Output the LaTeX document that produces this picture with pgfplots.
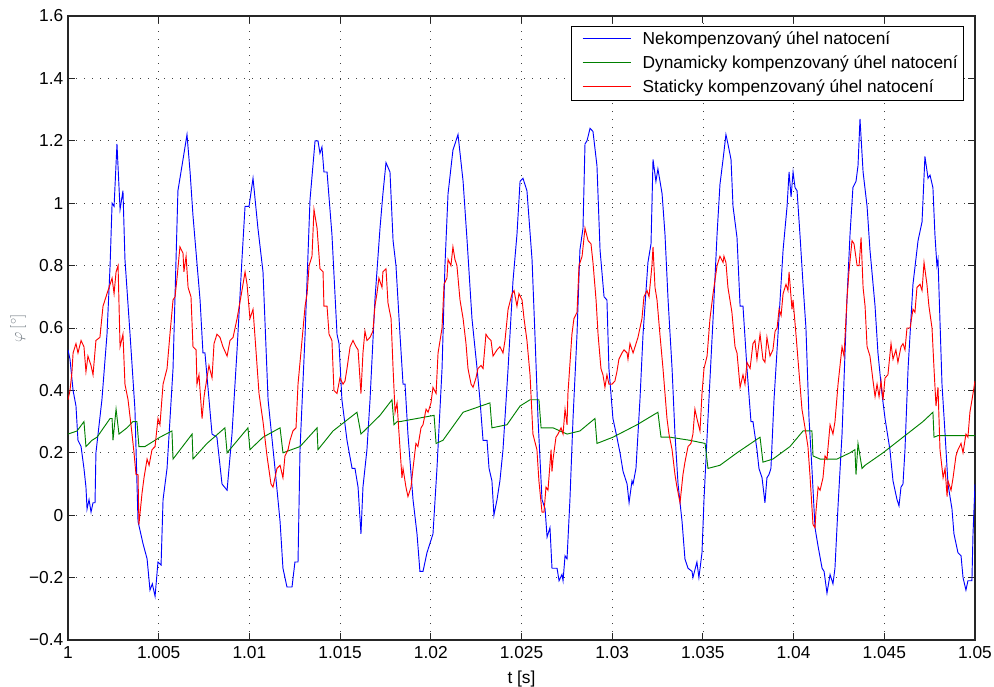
\documentclass[border=0pt]{standalone}
\usepackage{pgfplots}
\pgfplotsset{compat=1.18}
\usepackage{fontspec}
\setmainfont{Liberation Sans}
\usetikzlibrary{calc}

\definecolor{mblue}{RGB}{0,0,255}
\definecolor{mgreen}{RGB}{0,128,0}
\definecolor{mred}{RGB}{255,0,0}
\definecolor{labgray}{RGB}{120,128,136}

\newcommand{\legline}[1]{\textcolor{#1}{\rule[0.32em]{36pt}{0.7pt}}\hspace{9pt}}

\begin{document}
\begin{tikzpicture}
\begin{axis}[
  scale only axis,
  width=680.25pt, height=468pt,
  xmin=0, xmax=50, ymin=-0.4, ymax=1.6,
  xtick={0,5,...,50},
  xticklabels={1,1.005,1.01,1.015,1.02,1.025,1.03,1.035,1.04,1.045,1.05},
  ytick={-0.4,-0.2,...,1.6},
  yticklabels={−0.4,−0.2,0,0.2,0.4,0.6,0.8,1,1.2,1.4,1.6},
  tick label style={font=\fontsize{13}{15}\selectfont},
  xticklabel style={yshift=-1.5pt},
  label style={font=\fontsize{13}{15}\selectfont},
  xlabel={t [s]},
  ylabel={$\varphi\,[^\circ]$},
  xlabel style={at={(axis description cs:0.5,-0.0625)}, anchor=center},
  ylabel style={at={(axis description cs:-0.055,0.5)}, anchor=center, text=labgray},
  tick align=inside,
  major tick length=5pt,
  tick style={black!85, line width=0.7pt},
  axis line style={black!85, line width=0.9pt},
  grid=major,
  grid style={black!75, line width=0.6pt, dash pattern=on 0.8pt off 5.2pt},
]
\coordinate (ll) at (rel axis cs:0,0);
\coordinate (ur) at (rel axis cs:1,1);

\addplot[color=mblue, line width=0.7pt] table {
0.00 0.53
0.11 0.50
0.28 0.40
0.44 0.35
0.55 0.24
0.72 0.22
0.88 0.15
0.99 0.09
1.05 0.02
1.16 0.05
1.27 0.01
1.38 0.04
1.49 0.04
1.54 0.20
1.87 0.37
2.15 0.58
2.32 0.80
2.43 1.00
2.54 0.99
2.70 1.19
2.87 0.98
3.03 1.04
3.14 0.82
3.42 0.58
3.69 0.34
3.86 -0.02
4.13 -0.09
4.36 -0.14
4.52 -0.24
4.65 -0.22
4.80 -0.26
4.96 -0.15
5.13 -0.16
5.24 0.05
5.46 0.15
5.79 0.47
6.06 1.04
6.34 1.14
6.56 1.22
6.73 1.10
6.89 0.96
7.28 0.69
7.44 0.52
7.55 0.52
7.94 0.26
8.21 0.25
8.49 0.10
8.77 0.08
9.04 0.26
9.32 0.53
9.59 0.82
9.76 0.99
9.98 0.99
10.20 1.08
10.47 0.92
10.75 0.78
11.03 0.37
11.41 0.15
11.69 -0.02
11.85 -0.17
12.07 -0.23
12.35 -0.23
12.51 -0.15
12.68 -0.15
12.79 0.21
13.07 0.58
13.34 1.01
13.62 1.20
13.78 1.20
13.89 1.16
14.00 1.18
14.11 1.10
14.28 1.10
14.55 0.90
14.83 0.58
14.94 0.55
15.10 0.37
15.38 0.24
15.66 0.15
15.82 0.15
15.99 0.09
16.15 -0.06
16.26 0.09
16.48 0.21
16.65 0.37
16.92 0.69
17.20 0.92
17.36 1.03
17.53 1.13
17.75 1.10
17.92 0.88
18.08 0.80
18.30 0.58
18.47 0.42
18.58 0.42
18.74 0.26
19.02 0.05
19.24 -0.06
19.40 -0.18
19.57 -0.18
19.79 -0.12
20.12 -0.06
20.34 0.15
20.62 0.47
20.78 0.80
20.95 1.03
21.22 1.17
21.50 1.22
21.78 1.07
22.00 0.88
22.27 0.63
22.55 0.47
22.71 0.37
22.88 0.24
23.10 0.24
23.21 0.15
23.37 0.11
23.48 0.00
23.65 0.05
23.81 0.11
23.98 0.21
24.26 0.47
24.53 0.75
24.75 0.90
24.92 1.07
25.08 1.08
25.30 1.04
25.58 0.82
25.74 0.58
25.91 0.31
26.13 0.05
26.30 0.02
26.41 -0.07
26.57 -0.04
26.68 -0.17
26.96 -0.17
27.07 -0.21
27.23 -0.19
27.29 -0.21
27.40 -0.13
27.51 -0.14
27.67 0.05
27.84 0.31
28.06 0.58
28.22 0.85
28.39 0.92
28.50 1.19
28.61 1.20
28.78 1.24
28.94 1.23
29.16 1.12
29.33 0.85
29.55 0.70
29.71 0.69
29.82 0.47
30.04 0.31
30.26 0.25
30.43 0.20
30.60 0.14
30.82 0.10
30.93 0.04
31.09 0.11
31.15 0.10
31.31 0.15
31.53 0.37
31.70 0.58
31.97 0.81
32.14 0.87
32.25 1.14
32.41 1.07
32.52 1.11
32.75 1.03
32.91 0.90
33.08 0.69
33.30 0.47
33.46 0.26
33.63 0.10
33.85 -0.02
34.01 -0.14
34.18 -0.17
34.40 -0.18
34.45 -0.20
34.67 -0.15
34.78 -0.20
34.95 -0.12
35.06 0.05
35.28 0.31
35.56 0.63
35.78 0.90
35.94 1.06
36.11 1.14
36.27 1.22
36.38 1.19
36.55 1.14
36.66 0.99
36.88 0.89
37.05 0.67
37.21 0.67
37.43 0.47
37.65 0.30
37.76 0.30
37.98 0.21
38.09 0.15
38.26 0.12
38.42 0.04
38.53 0.12
38.64 0.13
38.75 0.15
38.92 0.37
39.14 0.58
39.42 0.85
39.64 0.99
39.75 1.10
39.86 1.02
39.97 1.10
40.08 1.05
40.19 1.04
40.35 0.90
40.52 0.74
40.68 0.60
40.85 0.31
41.01 0.15
41.18 -0.04
41.35 -0.10
41.57 -0.17
41.68 -0.18
41.84 -0.25
42.01 -0.19
42.17 -0.22
42.28 -0.17
42.45 0.03
42.67 0.26
42.94 0.69
43.11 0.90
43.27 1.05
43.44 1.07
43.55 1.12
43.66 1.27
43.83 1.10
44.05 0.99
44.21 0.85
44.49 0.67
44.65 0.52
44.87 0.39
45.04 0.31
45.31 0.21
45.48 0.11
45.70 0.05
45.81 0.03
45.92 0.09
46.03 0.10
46.14 0.21
46.31 0.47
46.58 0.74
46.86 0.88
47.08 0.94
47.24 1.15
47.41 1.08
47.52 1.09
47.68 1.05
47.79 0.90
47.90 0.80
47.96 0.82
48.18 0.42
48.35 0.26
48.51 0.10
48.73 0.02
48.84 -0.06
49.06 -0.12
49.23 -0.13
49.34 -0.20
49.50 -0.24
49.61 -0.21
49.83 -0.21
49.89 -0.06
50.00 0.10
};

\addplot[color=mgreen, line width=0.7pt] table {
0.00 0.26
0.50 0.27
0.88 0.30
0.99 0.22
1.32 0.24
1.60 0.25
2.32 0.31
2.43 0.31
2.48 0.24
2.65 0.34
2.81 0.26
3.25 0.28
3.58 0.30
3.80 0.30
3.91 0.22
4.24 0.22
5.07 0.25
5.73 0.27
5.79 0.18
6.84 0.26
6.89 0.18
7.66 0.23
8.65 0.28
8.77 0.20
9.92 0.28
10.03 0.21
10.75 0.25
11.69 0.28
11.85 0.20
12.79 0.22
13.73 0.28
13.78 0.21
14.61 0.27
15.93 0.33
16.15 0.26
17.20 0.32
17.86 0.37
17.97 0.29
18.14 0.30
18.30 0.30
19.24 0.31
20.18 0.32
20.29 0.23
20.67 0.24
21.78 0.33
23.26 0.36
23.37 0.28
24.20 0.29
24.92 0.35
25.47 0.37
25.96 0.37
26.08 0.28
26.74 0.28
27.51 0.26
28.22 0.27
29.05 0.31
29.16 0.23
30.04 0.25
31.37 0.29
32.52 0.33
32.69 0.25
33.19 0.25
34.29 0.24
35.12 0.23
35.28 0.15
35.94 0.16
36.88 0.20
38.15 0.25
38.31 0.17
38.86 0.18
39.80 0.22
40.52 0.27
41.01 0.27
41.07 0.19
41.46 0.18
42.39 0.18
43.11 0.20
43.38 0.21
43.44 0.13
43.55 0.23
43.77 0.15
43.94 0.16
44.93 0.20
46.25 0.26
47.13 0.30
47.68 0.33
47.74 0.25
47.96 0.255
50.00 0.255
};

\addplot[color=mred, line width=0.7pt] table {
0.00 0.37
0.11 0.40
0.22 0.46
0.28 0.52
0.44 0.55
0.55 0.52
0.72 0.56
0.88 0.54
0.99 0.46
1.10 0.51
1.27 0.48
1.38 0.45
1.54 0.56
1.76 0.57
1.93 0.67
2.15 0.71
2.32 0.74
2.43 0.76
2.54 0.71
2.65 0.78
2.76 0.80
2.87 0.54
3.03 0.58
3.14 0.42
3.31 0.37
3.53 0.26
3.64 0.20
3.75 0.13
3.86 0.13
3.91 -0.03
4.08 0.07
4.19 0.12
4.36 0.18
4.47 0.16
4.63 0.21
4.80 0.22
4.96 0.31
5.07 0.29
5.24 0.42
5.46 0.47
5.62 0.58
5.79 0.69
5.90 0.70
6.01 0.76
6.17 0.86
6.34 0.84
6.39 0.78
6.51 0.83
6.62 0.73
6.78 0.70
6.89 0.54
7.06 0.53
7.11 0.42
7.22 0.45
7.39 0.31
7.50 0.38
7.66 0.44
7.77 0.48
7.94 0.44
8.05 0.55
8.21 0.58
8.38 0.57
8.54 0.54
8.77 0.51
8.93 0.56
9.10 0.57
9.32 0.63
9.59 0.72
9.76 0.78
9.87 0.74
10.03 0.63
10.20 0.66
10.36 0.53
10.53 0.39
10.75 0.30
10.97 0.19
11.19 0.10
11.30 0.09
11.52 0.15
11.69 0.16
11.85 0.12
11.96 0.19
12.13 0.21
12.24 0.24
12.40 0.27
12.57 0.28
12.68 0.42
12.90 0.56
13.07 0.67
13.18 0.71
13.29 0.80
13.45 0.83
13.56 0.98
13.73 0.92
13.89 0.79
14.06 0.78
14.11 0.67
14.28 0.67
14.39 0.58
14.55 0.56
14.66 0.40
14.83 0.39
14.99 0.44
15.16 0.42
15.27 0.43
15.38 0.47
15.55 0.54
15.71 0.56
15.88 0.54
15.99 0.53
16.15 0.39
16.26 0.52
16.37 0.59
16.48 0.56
16.65 0.57
16.81 0.59
16.92 0.67
17.03 0.71
17.14 0.76
17.31 0.73
17.36 0.78
17.53 0.79
17.64 0.68
17.81 0.63
17.92 0.47
18.03 0.33
18.14 0.36
18.25 0.26
18.41 0.12
18.47 0.15
18.63 0.09
18.74 0.06
18.91 0.09
19.02 0.15
19.18 0.23
19.29 0.22
19.46 0.28
19.57 0.29
19.74 0.34
19.85 0.33
20.01 0.36
20.12 0.41
20.29 0.39
20.40 0.52
20.62 0.60
20.73 0.74
20.89 0.76
20.95 0.82
21.11 0.80
21.22 0.86
21.33 0.82
21.44 0.80
21.61 0.69
21.78 0.63
21.94 0.55
22.05 0.47
22.22 0.42
22.33 0.41
22.49 0.44
22.60 0.47
22.77 0.48
22.88 0.47
23.04 0.58
23.15 0.57
23.32 0.56
23.43 0.51
23.54 0.52
23.65 0.53
23.81 0.54
23.98 0.52
24.09 0.56
24.26 0.66
24.48 0.71
24.59 0.72
24.75 0.67
24.86 0.71
25.03 0.69
25.14 0.63
25.30 0.56
25.47 0.45
25.63 0.26
25.85 0.21
25.96 0.11
26.13 0.01
26.24 0.01
26.35 0.09
26.46 0.08
26.63 0.21
26.68 0.14
26.74 0.18
26.90 0.25
27.01 0.26
27.18 0.28
27.29 0.26
27.40 0.34
27.51 0.29
27.56 0.39
27.78 0.58
27.89 0.63
28.06 0.65
28.17 0.80
28.34 0.83
28.50 0.92
28.67 0.88
28.83 0.87
28.94 0.81
29.11 0.69
29.22 0.58
29.38 0.47
29.49 0.45
29.60 0.41
29.71 0.45
29.82 0.42
29.99 0.42
30.15 0.43
30.26 0.46
30.37 0.50
30.54 0.52
30.65 0.53
30.82 0.52
30.87 0.50
30.98 0.55
31.15 0.52
31.26 0.54
31.42 0.57
31.64 0.63
31.75 0.70
31.92 0.72
32.03 0.70
32.19 0.80
32.25 0.86
32.36 0.73
32.47 0.69
32.63 0.58
32.80 0.47
33.02 0.31
33.13 0.26
33.30 0.21
33.46 0.13
33.57 0.09
33.74 0.04
33.90 0.13
34.01 0.17
34.18 0.22
34.34 0.23
34.45 0.26
34.56 0.34
34.67 0.31
34.84 0.27
34.95 0.39
35.06 0.47
35.23 0.51
35.39 0.63
35.56 0.71
35.78 0.80
35.94 0.83
36.11 0.81
36.16 0.83
36.27 0.81
36.38 0.73
36.60 0.65
36.77 0.54
36.88 0.52
37.05 0.41
37.21 0.45
37.32 0.42
37.43 0.49
37.60 0.47
37.76 0.55
37.87 0.56
37.98 0.50
38.15 0.58
38.31 0.50
38.42 0.49
38.53 0.57
38.70 0.51
38.86 0.53
38.98 0.59
39.09 0.60
39.20 0.66
39.31 0.64
39.42 0.71
39.58 0.74
39.69 0.72
39.75 0.78
39.91 0.66
39.97 0.69
40.13 0.58
40.24 0.50
40.46 0.34
40.63 0.28
40.79 0.22
40.90 0.13
41.07 -0.03
41.18 -0.04
41.23 0.01
41.35 0.09
41.46 0.08
41.62 0.12
41.73 0.19
41.84 0.18
42.01 0.29
42.17 0.26
42.28 0.30
42.45 0.42
42.67 0.54
42.78 0.51
42.94 0.69
43.05 0.78
43.22 0.88
43.33 0.87
43.50 0.80
43.61 0.80
43.72 0.89
43.83 0.73
43.94 0.67
44.05 0.54
44.21 0.51
44.38 0.43
44.49 0.38
44.60 0.42
44.71 0.38
44.82 0.43
44.93 0.37
45.04 0.44
45.20 0.45
45.37 0.55
45.48 0.50
45.64 0.53
45.75 0.49
45.92 0.54
46.03 0.55
46.14 0.53
46.25 0.60
46.42 0.60
46.58 0.66
46.69 0.65
46.80 0.73
46.97 0.74
47.08 0.72
47.19 0.81
47.35 0.74
47.46 0.67
47.63 0.60
47.74 0.47
47.85 0.35
47.96 0.41
48.07 0.21
48.24 0.12
48.35 0.15
48.46 0.06
48.51 0.11
48.68 0.08
48.79 0.12
48.95 0.19
49.06 0.21
49.23 0.23
49.34 0.20
49.50 0.26
49.61 0.25
49.72 0.33
49.89 0.39
50.00 0.43
};

\node[draw=black, line width=0.5pt, fill=white, inner xsep=0pt, inner ysep=0.8pt,
      anchor=north east, font=\fontsize{13}{18}\selectfont]
  at (rel axis cs:0.9879,0.984) {%
  \begin{tabular}{@{\hspace{8.25pt}}l@{\hspace{4.5pt}}}
  \legline{mblue}Nekompenzovaný úhel natocení\\
  \legline{mgreen}Dynamicky kompenzovaný úhel natocení\\
  \legline{mred}Staticky kompenzovaný úhel natocení
  \end{tabular}};
\end{axis}
\pgfresetboundingbox
\path[use as bounding box] ($(ll)+(-51pt,-34.5pt)$) rectangle ($(ur)+(14.25pt,12pt)$);
\end{tikzpicture}
\end{document}
